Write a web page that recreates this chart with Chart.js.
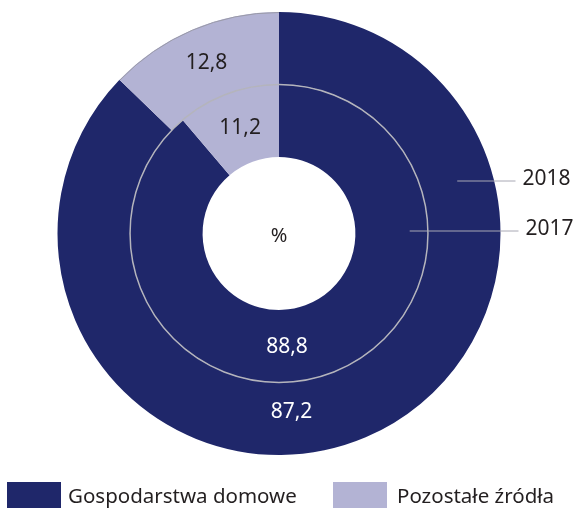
<!DOCTYPE html>
<html><head><meta charset="utf-8">
<script src="https://cdn.jsdelivr.net/npm/chart.js@4/dist/chart.umd.min.js"></script>
<style>html,body{margin:0;padding:0;background:#fff;}#wrap{width:573px;height:511px;position:relative;}</style>
</head><body><div id="wrap"><canvas id="c" width="573" height="511"></canvas></div>
<script>
const categories = ["Gospodarstwa domowe", "Pozostałe źródła"];
const years = ["2018", "2017"];
const values2018 = [87.2, 12.8];
const values2017 = [88.8, 11.2];
const centerLabel = "%";

const DARK = "#1f276a", LIGHT = "#b3b3d4", TEXT = "#231f20", FONT = "'Noto Sans', 'Open Sans', sans-serif";
const fmt = v => v.toFixed(1).replace(".", ",");

const overlay = {
  id: "overlay",
  afterDatasetsDraw(chart) {
    const ctx = chart.ctx;
    const a0 = chart.getDatasetMeta(0).data, a1 = chart.getDatasetMeta(1).data;
    const cx = a0[0].x, cy = a0[0].y;
    const outerR = a0[0].outerRadius, midR = a0[0].innerRadius, innerR = a1[0].innerRadius;
    ctx.save();
    // thin outline on outer edge of light slice
    ctx.strokeStyle = "#9a9aa8"; ctx.lineWidth = 1;
    ctx.beginPath(); ctx.arc(cx, cy, outerR - 0.5, a0[1].startAngle, a0[1].endAngle); ctx.stroke();
    // separator circle between rings
    ctx.strokeStyle = "#b4b4bc"; ctx.lineWidth = 1.5;
    ctx.beginPath(); ctx.arc(cx, cy, midR, 0, Math.PI * 2); ctx.stroke();
    // value labels
    ctx.font = "21px " + FONT; ctx.textAlign = "center"; ctx.textBaseline = "middle";
    const putAt = (ang, r, val, color) => {
      ctx.fillStyle = color;
      ctx.fillText(fmt(val), cx + r * Math.cos(ang), cy + r * Math.sin(ang));
    };
    const mid = arc => (arc.startAngle + arc.endAngle) / 2;
    const ringMid = arc => (arc.innerRadius + arc.outerRadius) / 2;
    putAt(mid(a0[1]), ringMid(a0[1]), values2018[1], TEXT);
    putAt(mid(a1[1]), ringMid(a1[1]), values2017[1], TEXT);
    const bottomAng = 86 * Math.PI / 180;
    putAt(bottomAng, ringMid(a0[0]) - 6, values2018[0], "#ffffff");
    putAt(bottomAng, ringMid(a1[0]) + 1.5, values2017[0], "#ffffff");
    // center
    ctx.fillStyle = TEXT; ctx.font = "20px " + FONT;
    ctx.fillText(centerLabel, cx, cy + 3);
    // year callouts
    ctx.strokeStyle = "#a8a8b4"; ctx.lineWidth = 1;
    ctx.font = "21px " + FONT;
    const callout = (x1, x2, y, txt) => {
      ctx.beginPath(); ctx.moveTo(x1, y); ctx.lineTo(x2, y); ctx.stroke();
      ctx.textAlign = "left"; ctx.fillStyle = TEXT;
      ctx.fillText(txt, x2 + 7, y - 2);
    };
    callout(cx + (outerR + midR) / 2 - 7, cx + outerR + 15, cy - 52.5, years[0]);
    callout(cx + (midR + innerR) / 2 + 18, cx + outerR + 18, cy - 2.5, years[1]);
    // legend
    const ly = 482, lh = 26;
    ctx.fillStyle = DARK; ctx.fillRect(7, ly, 54, lh);
    ctx.fillStyle = LIGHT; ctx.fillRect(333, ly, 54, lh);
    ctx.fillStyle = TEXT; ctx.textAlign = "left"; ctx.textBaseline = "middle";
    ctx.font = "20.5px " + FONT;
    ctx.fillText(categories[0], 68, ly + lh / 2 + 2);
    ctx.fillText(categories[1], 397, ly + lh / 2 + 2);
    ctx.restore();
  }
};

new Chart(document.getElementById("c"), {
  type: "doughnut",
  data: {
    labels: categories,
    datasets: [
      { label: years[0], data: values2018, backgroundColor: [DARK, LIGHT], borderWidth: 0 },
      { label: years[1], data: values2017, backgroundColor: [DARK, LIGHT], borderWidth: 0 }
    ]
  },
  options: {
    responsive: false, animation: false,
    cutout: "34.5%",
    layout: { padding: { top: 12, bottom: 56, left: 57, right: 72 } },
    plugins: { legend: { display: false }, tooltip: { enabled: false } }
  },
  plugins: [overlay]
});
</script></body></html>
